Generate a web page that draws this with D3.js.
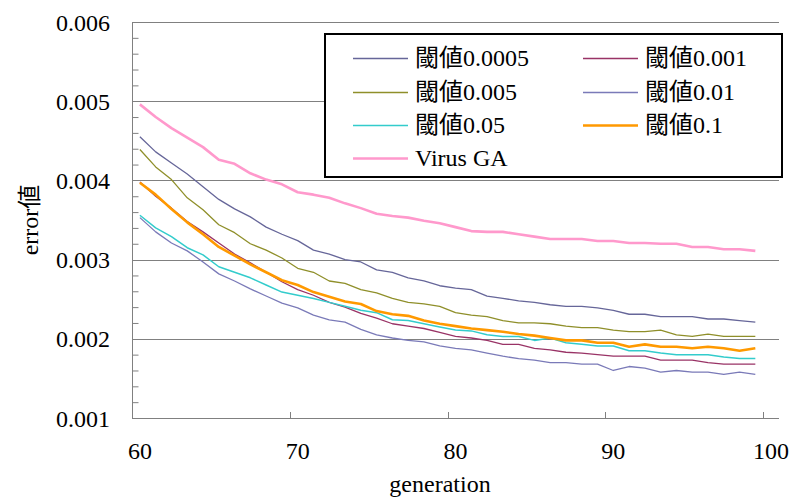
<!DOCTYPE html>
<html>
<head>
<meta charset="utf-8">
<script src="https://cdn.jsdelivr.net/npm/d3@7/dist/d3.min.js"></script>
<style>
  html, body { margin: 0; padding: 0; background: #fff; }
</style>
</head>
<body>
<svg id="chart" width="793" height="499"></svg>
<script>
// Generations on the horizontal axis
const generations = [60,61,62,63,64,65,66,67,68,69,70,71,72,73,74,75,76,77,78,79,
                     80,81,82,83,84,85,86,87,88,89,90,91,92,93,94,95,96,97,98,99];
const xTickLabels = [60, 70, 80, 90, 100];
const yTickValues = [0.001, 0.002, 0.003, 0.004, 0.005, 0.006];
const yMinorTicks = [0.0012,0.0014,0.0016,0.0018,0.0022,0.0024,0.0026,0.0028,
                     0.0032,0.0034,0.0036,0.0038,0.0042,0.0044,0.0046,0.0048,
                     0.0052,0.0054,0.0056,0.0058];

// error per generation, one array per threshold setting
const thr00005 = [0.00455,0.00436,0.00422,0.00408,0.00392,0.00376,0.00364,0.00354,0.00341,0.00332,
                  0.00324,0.00312,0.00307,0.00300,0.00297,0.00287,0.00284,0.00277,0.00273,0.00267,
                  0.00264,0.00262,0.00254,0.00251,0.00248,0.00246,0.00243,0.00241,0.00241,0.00239,
                  0.00236,0.00231,0.00231,0.00228,0.00228,0.00228,0.00225,0.00225,0.00223,0.00221];
const thr0001  = [0.00398,0.00380,0.00365,0.00348,0.00335,0.00321,0.00307,0.00296,0.00284,0.00272,
                  0.00262,0.00255,0.00246,0.00240,0.00232,0.00226,0.00219,0.00216,0.00213,0.00208,
                  0.00203,0.00201,0.00198,0.00193,0.00193,0.00188,0.00186,0.00183,0.00182,0.00180,
                  0.00178,0.00178,0.00178,0.00173,0.00173,0.00173,0.00170,0.00168,0.00168,0.00168];
const thr0005  = [0.00439,0.00417,0.00401,0.00378,0.00363,0.00344,0.00334,0.00320,0.00312,0.00302,
                  0.00289,0.00284,0.00273,0.00270,0.00262,0.00258,0.00251,0.00246,0.00244,0.00241,
                  0.00233,0.00230,0.00228,0.00223,0.00220,0.00220,0.00219,0.00216,0.00214,0.00214,
                  0.00211,0.00209,0.00209,0.00211,0.00205,0.00203,0.00206,0.00203,0.00203,0.00203];
const thr001   = [0.00353,0.00335,0.00321,0.00311,0.00297,0.00282,0.00273,0.00263,0.00254,0.00245,
                  0.00239,0.00230,0.00224,0.00221,0.00212,0.00205,0.00201,0.00198,0.00196,0.00191,
                  0.00188,0.00186,0.00182,0.00178,0.00175,0.00173,0.00170,0.00170,0.00168,0.00168,
                  0.00160,0.00165,0.00163,0.00158,0.00160,0.00158,0.00158,0.00155,0.00158,0.00155];
const thr005   = [0.00356,0.00340,0.00329,0.00315,0.00306,0.00291,0.00284,0.00277,0.00268,0.00259,
                  0.00255,0.00251,0.00246,0.00241,0.00236,0.00233,0.00224,0.00223,0.00219,0.00215,
                  0.00211,0.00210,0.00205,0.00203,0.00203,0.00198,0.00201,0.00195,0.00193,0.00191,
                  0.00191,0.00185,0.00185,0.00182,0.00180,0.00180,0.00180,0.00177,0.00175,0.00175];
const thr01    = [0.00397,0.00382,0.00364,0.00347,0.00332,0.00316,0.00305,0.00294,0.00284,0.00274,
                  0.00268,0.00259,0.00253,0.00247,0.00244,0.00235,0.00231,0.00229,0.00223,0.00219,
                  0.00216,0.00213,0.00211,0.00209,0.00206,0.00204,0.00201,0.00198,0.00198,0.00195,
                  0.00195,0.00190,0.00193,0.00190,0.00190,0.00188,0.00190,0.00188,0.00185,0.00188];
const virusGA  = [0.00496,0.00480,0.00466,0.00454,0.00442,0.00426,0.00421,0.00409,0.00401,0.00395,
                  0.00385,0.00382,0.00378,0.00371,0.00365,0.00358,0.00355,0.00353,0.00349,0.00346,
                  0.00341,0.00336,0.00335,0.00335,0.00332,0.00329,0.00326,0.00326,0.00326,0.003235,
                  0.003235,0.00321,0.00321,0.00320,0.00320,0.00316,0.00316,0.00313,0.00313,0.00311];

const seriesNames = ["閾値0.0005", "閾値0.001", "閾値0.005", "閾値0.01", "閾値0.05", "閾値0.1", "Virus GA"];
const seriesValues = [thr00005, thr0001, thr0005, thr001, thr005, thr01, virusGA];
const seriesColors = ["#666699", "#993366", "#8f8f2a", "#7a7ab8", "#33cccc", "#ff9900", "#ff99cc"];
const seriesWidths = [1.3, 1.3, 1.3, 1.3, 1.5, 2.6, 2.6];

const FONT = '"Liberation Serif", "Times New Roman", "Noto Sans CJK JP", serif';

const svg = d3.select("#chart");
const plot = { left: 132, right: 779, top: 22, bottom: 418 };
const gridColor = "#808080";

// Category axis: one band per generation, with a final band for 100
const x = d3.scaleBand()
  .domain(generations.concat([100]))
  .range([plot.left, plot.right])
  .paddingInner(0).paddingOuter(0);
const xc = g => x(g) + x.bandwidth() / 2;

const y = d3.scaleLinear().domain([0.001, 0.006]).range([plot.bottom, plot.top]);

// Horizontal gridlines
svg.append("g").selectAll("line")
  .data(yTickValues.filter(v => v > 0.001))
  .join("line")
  .attr("x1", plot.left).attr("x2", plot.right)
  .attr("y1", d => Math.round(y(d)) + 0.5).attr("y2", d => Math.round(y(d)) + 0.5)
  .attr("stroke", gridColor).attr("stroke-width", 1);

// Y axis labels
const yAxis = d3.axisLeft(y).tickValues(yTickValues).tickFormat(d3.format(".3f")).tickSize(0).tickPadding(22);
const gy = svg.append("g").attr("transform", `translate(${plot.left},0)`).call(yAxis);
gy.select(".domain").remove();
gy.attr("font-family", FONT).attr("font-size", 24);
gy.selectAll("text").attr("dy", "0.34em").attr("fill", "#000");

// Minor ticks pointing into the plot
const gyMinor = svg.append("g").attr("transform", `translate(${plot.left + 0.5},0)`)
  .call(d3.axisRight(y).tickValues(yMinorTicks).tickSize(6).tickFormat(""));
gyMinor.select(".domain").remove();
gyMinor.selectAll("line").attr("stroke", gridColor);

// Axis lines
svg.append("line").attr("x1", plot.left + 0.5).attr("x2", plot.left + 0.5)
  .attr("y1", plot.top).attr("y2", plot.bottom + 0.5).attr("stroke", gridColor);
svg.append("line").attr("x1", plot.left).attr("x2", plot.right)
  .attr("y1", plot.bottom + 0.5).attr("y2", plot.bottom + 0.5).attr("stroke", gridColor);

// X tick marks at category boundaries
svg.append("g").selectAll("line")
  .data(xTickLabels.slice(1))
  .join("line")
  .attr("x1", d => Math.round(x(d)) + 0.5).attr("x2", d => Math.round(x(d)) + 0.5)
  .attr("y1", plot.bottom).attr("y2", plot.bottom - 6)
  .attr("stroke", gridColor);

// X labels centred on their categories
const xAxis = d3.axisBottom(x).tickValues(xTickLabels).tickSize(0).tickPadding(24);
const gx = svg.append("g").attr("transform", `translate(0,${plot.bottom})`).call(xAxis);
gx.select(".domain").remove();
gx.attr("font-family", FONT).attr("font-size", 24);
gx.selectAll("text").attr("fill", "#000");

// Series lines
const line = d3.line()
  .x((d, i) => xc(generations[i]))
  .y(d => y(d));

const gLines = svg.append("g");
seriesValues.forEach((vals, i) => {
  gLines.append("path")
    .datum(vals)
    .attr("d", line)
    .attr("fill", "none")
    .attr("stroke", seriesColors[i])
    .attr("stroke-width", seriesWidths[i])
    .attr("stroke-linejoin", "round");
});

// Axis titles
svg.append("text")
  .attr("transform", "translate(38,220) rotate(-90)")
  .attr("text-anchor", "middle")
  .attr("font-family", FONT)
  .attr("font-size", 24)
  .text("error値");
svg.append("text")
  .attr("x", 440).attr("y", 492)
  .attr("text-anchor", "middle")
  .attr("font-family", FONT)
  .attr("font-size", 24)
  .text("generation");

// Legend
const legend = svg.append("g").attr("font-family", FONT).attr("font-size", 24);
legend.append("rect")
  .attr("x", 325).attr("y", 34).attr("width", 457).attr("height", 143)
  .attr("fill", "#fff").attr("stroke", "#000").attr("stroke-width", 2);
const colX = [353, 583];
const rowY = [58, 92, 125, 158];
seriesNames.forEach((name, i) => {
  const cx = colX[i % 2];
  const ry = rowY[Math.floor(i / 2)];
  legend.append("line")
    .attr("x1", cx).attr("x2", cx + 55)
    .attr("y1", ry + 0.5).attr("y2", ry + 0.5)
    .attr("stroke", seriesColors[i])
    .attr("stroke-width", seriesWidths[i]);
  legend.append("text")
    .attr("x", cx + 62).attr("y", ry + 8)
    .text(name);
});
</script>
</body>
</html>
